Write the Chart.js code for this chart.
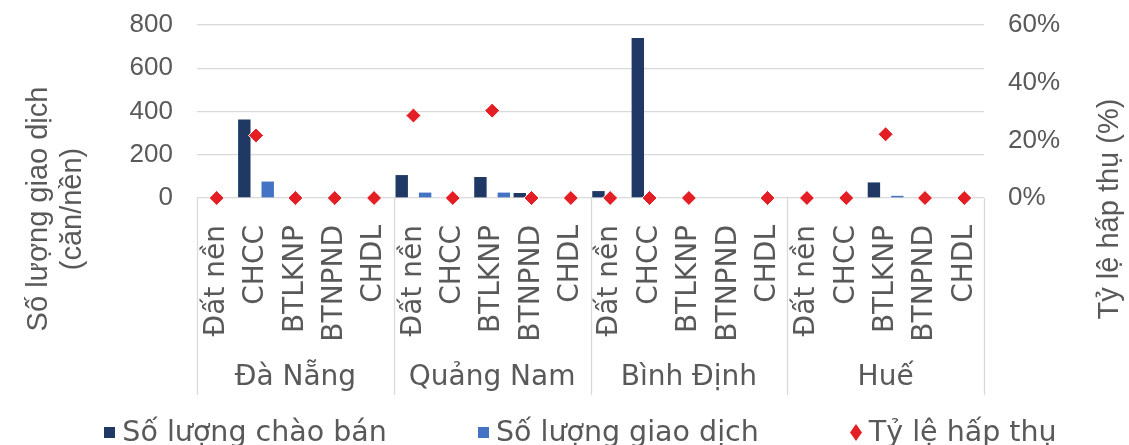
<!DOCTYPE html>
<html>
<head>
<meta charset="utf-8">
<script src="https://cdn.jsdelivr.net/npm/chart.js@4.4.1/dist/chart.umd.min.js"></script>
<style>
  html, body { margin: 0; padding: 0; background: #fff; overflow: hidden; }
  #wrap { position: relative; width: 1129px; height: 445px; overflow: hidden; }
  #c { position: absolute; left: 0; top: 0; }
  #legend {
    position: absolute; left: 0; top: 418px; width: 1129px; box-sizing: border-box;
    padding-left: 32px; display: flex; justify-content: center; gap: 91px;
    font-family: "DejaVu Sans", sans-serif; font-size: 28.5px; line-height: 28px;
    color: #595959; white-space: nowrap;
  }
  #legend .item { display: flex; align-items: center; }
  #legend .mk { display: inline-block; margin-right: 7px; flex: none; }
</style>
</head>
<body>
<div id="wrap">
  <canvas id="c" width="1129" height="445"></canvas>
  <div id="legend"></div>
</div>
<script>
// ---- data ----
const regions = ['Đà Nẵng', 'Quảng Nam', 'Bình Định', 'Huế'];
const types = ['Đất nền', 'CHCC', 'BTLKNP', 'BTNPND', 'CHDL'];
const seriesNames = ['Số lượng chào bán', 'Số lượng giao dịch', 'Tỷ lệ hấp thụ'];
const offered = [0, 363, 0, 0, 0,   106, 0, 97, 23, 0,   32, 740, 0, 0, 0,   0, 0, 72, 0, 0];
const traded  = [0, 76, 0, 0, 0,    25, 0, 25, 0, 0,     0, 0, 0, 0, 0,      0, 0, 10, 0, 0];
const absorption = [0, 21.7, 0, 0, 0,   28.6, 0, 30.3, 0, 0,   0, 0, 0, null, 0,   0, 0, 22.1, 0, 0];
const leftTicks = [0, 200, 400, 600, 800];
const rightTicks = [0, 20, 40, 60];
const leftTitle = ['Số lượng giao dịch', '(căn/nền)'];
const rightTitle = 'Tỷ lệ hấp thụ (%)';

const categories = regions.flatMap(() => types);

const colors = { navy: '#203864', blue: '#4472C4', red: '#E31E25', text: '#595959', grid: '#D9D9D9' };
const catFont = 'DejaVu Sans';
const axisFont = 'Liberation Sans';

// ---- decorations: region separators, region labels, axis titles ----
const decor = {
  id: 'decor',
  afterDraw(chart) {
    const { ctx, chartArea } = chart;
    const x = chart.scales.x;
    const n = categories.length;
    const per = types.length;
    const boundary = (i) => {
      if (i <= 0) return x.left;
      if (i >= n) return x.right;
      return (x.getPixelForTick(i - 1) + x.getPixelForTick(i)) / 2;
    };
    ctx.save();
    ctx.strokeStyle = colors.grid;
    ctx.lineWidth = 1.3;
    for (let r = 0; r <= regions.length; r++) {
      const bx = Math.round(boundary(r * per)) + 0.5;
      ctx.beginPath();
      ctx.moveTo(bx, chartArea.bottom);
      ctx.lineTo(bx, 395);
      ctx.stroke();
    }
    ctx.fillStyle = colors.text;
    ctx.font = `28px "${catFont}"`;
    ctx.textAlign = 'center';
    ctx.textBaseline = 'alphabetic';
    regions.forEach((name, r) => {
      const cx = (boundary(r * per) + boundary((r + 1) * per)) / 2;
      ctx.fillText(name, cx, 385);
    });
    // axis titles
    ctx.font = `29px "${axisFont}"`;
    ctx.textBaseline = 'middle';
    const titleY = 209;
    const leftXs = [39, 73];
    leftTitle.forEach((t, i) => {
      ctx.save();
      ctx.translate(leftXs[i], titleY);
      ctx.rotate(-Math.PI / 2);
      ctx.fillText(t, 0, 0);
      ctx.restore();
    });
    ctx.save();
    ctx.translate(1110, titleY);
    ctx.rotate(-Math.PI / 2);
    ctx.fillText(rightTitle, 0, 0);
    ctx.restore();
    ctx.restore();
  }
};

const chart = new Chart(document.getElementById('c'), {
  data: {
    labels: categories,
    datasets: [
      {
        type: 'bar', label: seriesNames[0], data: offered, yAxisID: 'y',
        backgroundColor: colors.navy, borderWidth: 0,
        categoryPercentage: 1.19, barPercentage: 0.53, order: 2
      },
      {
        type: 'bar', label: seriesNames[1], data: traded, yAxisID: 'y',
        backgroundColor: colors.blue, borderWidth: 0,
        categoryPercentage: 1.19, barPercentage: 0.53, order: 2
      },
      {
        type: 'line', label: seriesNames[2], data: absorption, yAxisID: 'y1',
        showLine: false, pointStyle: 'rectRot', pointRadius: 7.5, pointHoverRadius: 7.5,
        backgroundColor: colors.red, borderColor: '#ffffff', borderWidth: 1,
        clip: false, order: 0
      }
    ]
  },
  options: {
    responsive: false,
    animation: false,
    events: [],
    layout: { padding: { top: 25, left: 0, right: 0, bottom: 0 } },
    plugins: { legend: { display: false }, tooltip: { enabled: false }, title: { display: false } },
    scales: {
      x: {
        type: 'category',
        offset: true,
        grid: { display: false },
        border: { display: false },
        ticks: {
          autoSkip: false, minRotation: 90, maxRotation: 90, padding: 19,
          color: colors.text, font: { family: catFont, size: 28 }
        },
        afterFit(s) { s.height = 445 - 25 - 173; }
      },
      y: {
        position: 'left', min: 0, max: 800,
        afterBuildTicks(s) { s.ticks = leftTicks.map(v => ({ value: v })); },
        ticks: { padding: 24, color: colors.text, font: { family: axisFont, size: 26 } },
        grid: { color: colors.grid, lineWidth: 1.3, drawTicks: false },
        border: { display: false },
        afterFit(s) { s.width = 197; s.paddingTop = 10; s.paddingBottom = 10; }
      },
      y1: {
        position: 'right', min: 0, max: 60,
        afterBuildTicks(s) { s.ticks = rightTicks.map(v => ({ value: v })); },
        ticks: { padding: 24, color: colors.text, font: { family: axisFont, size: 26 }, callback: v => v + '%' },
        grid: { display: false, drawTicks: false },
        border: { display: false },
        afterFit(s) { s.width = 1129 - 984; s.paddingTop = 10; s.paddingBottom = 10; }
      }
    }
  },
  plugins: [decor]
});

// ---- legend (HTML, built from the datasets) ----
const legend = document.getElementById('legend');
chart.data.datasets.forEach(ds => {
  const item = document.createElement('span');
  item.className = 'item';
  let mk;
  if (ds.type === 'line') {
    mk = document.createElementNS('http://www.w3.org/2000/svg', 'svg');
    mk.setAttribute('width', '12'); mk.setAttribute('height', '17');
    mk.setAttribute('class', 'mk');
    const p = document.createElementNS('http://www.w3.org/2000/svg', 'polygon');
    p.setAttribute('points', '6,0 12,8.5 6,17 0,8.5');
    p.setAttribute('fill', ds.backgroundColor);
    mk.appendChild(p);
  } else {
    mk = document.createElement('span');
    mk.className = 'mk';
    mk.style.width = '11px'; mk.style.height = '11px';
    mk.style.background = ds.backgroundColor;
  }
  const t = document.createElement('span');
  t.textContent = ds.label;
  item.appendChild(mk);
  item.appendChild(t);
  legend.appendChild(item);
});
</script>
</body>
</html>
